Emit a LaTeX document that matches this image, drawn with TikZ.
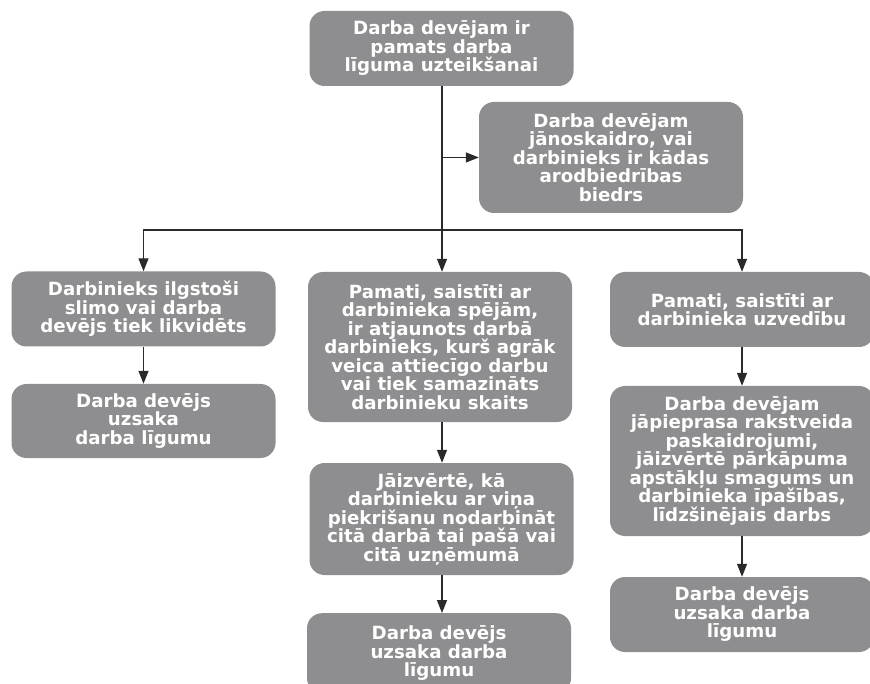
\documentclass[tikz,border=0pt]{standalone}
\usepackage{fontspec}
\setmainfont{DejaVu Sans}
\usetikzlibrary{arrows.meta}
\definecolor{boxgrey}{HTML}{8E8E90}
\definecolor{linegrey}{HTML}{2A2A2A}
\begin{document}
\begin{tikzpicture}[x=1pt,y=-1pt,
  stepbox/.style={fill=boxgrey, rounded corners=15pt, text=white,
    font=\bfseries\fontsize{18.2}{18.5}\selectfont, align=center,
    inner sep=0pt, minimum width=264pt},
  link/.style={draw=linegrey, line width=1.3pt},
  arr/.style={link, -{Triangle[length=13pt,width=10pt]}}]
\useasboundingbox (0,0) rectangle (870,684);
\clip (0,0) rectangle (870,684);

% main question and side note
\node[stepbox, minimum height=75pt] (top) at (441.5,48.5)
  {Darba devējam ir\\pamats darba\\līguma uzteikšanai};
\node[stepbox, minimum height=111pt] (note) at (611,157.5)
  {Darba devējam\\jānoskaidro, vai\\darbinieks ir kādas\\arodbiedrības\\biedrs};

% left branch
\node[stepbox, minimum height=75pt] (l1) at (143.5,309)
  {Darbinieks ilgstoši\\slimo vai darba\\devējs tiek likvidēts};
\node[stepbox, minimum height=74pt] (l2) at (143.5,421)
  {Darba devējs\\uzsaka\\darba līgumu};

% middle branch
\node[stepbox, minimum height=150pt] (m1) at (440,347)
  {Pamati, saistīti ar\\darbinieka spējām,\\ir atjaunots darbā\\darbinieks, kurš agrāk\\veica attiecīgo darbu\\vai tiek samazināts\\darbinieku skaits};
\node[stepbox, minimum height=112pt] (m2) at (441.5,519)
  {Jāizvērtē, kā\\darbinieku ar viņa\\piekrišanu nodarbināt\\citā darbā tai pašā vai\\citā uzņēmumā};
\node[stepbox, minimum height=80pt, anchor=north] (m3) at (439,613)
  {Darba devējs\\uzsaka darba\\līgumu};

% right branch
\node[stepbox, minimum height=75pt] (r1) at (742,309.5)
  {Pamati, saistīti ar\\darbinieka uzvedību};
\node[stepbox, minimum height=150pt] (r2) at (742,461)
  {Darba devējam\\jāpieprasa rakstveida\\paskaidrojumi,\\jāizvērtē pārkāpuma\\apstākļu smagums un\\darbinieka īpašības,\\līdzšinējais darbs};
\node[stepbox, minimum height=75pt] (r3) at (742,614.5)
  {Darba devējs\\uzsaka darba\\līgumu};

% connectors
\coordinate (j) at (442,230);
\draw[link] (top.south -| j) -- (j);
\draw[arr] (j |- note.west) -- (note.west);
\draw[arr] (j) -| (l1.north);
\draw[arr] (j) -- (j |- m1.north);
\draw[arr] (j) -| (r1.north);
\draw[arr] (l1) -- (l2);
\draw[arr] (m1.south -| j) -- (m2.north -| j);
\draw[arr] (m2.south -| j) -- (m3.north -| j);
\draw[arr] (r1) -- (r2);
\draw[arr] (r2) -- (r3);
\end{tikzpicture}
\end{document}
